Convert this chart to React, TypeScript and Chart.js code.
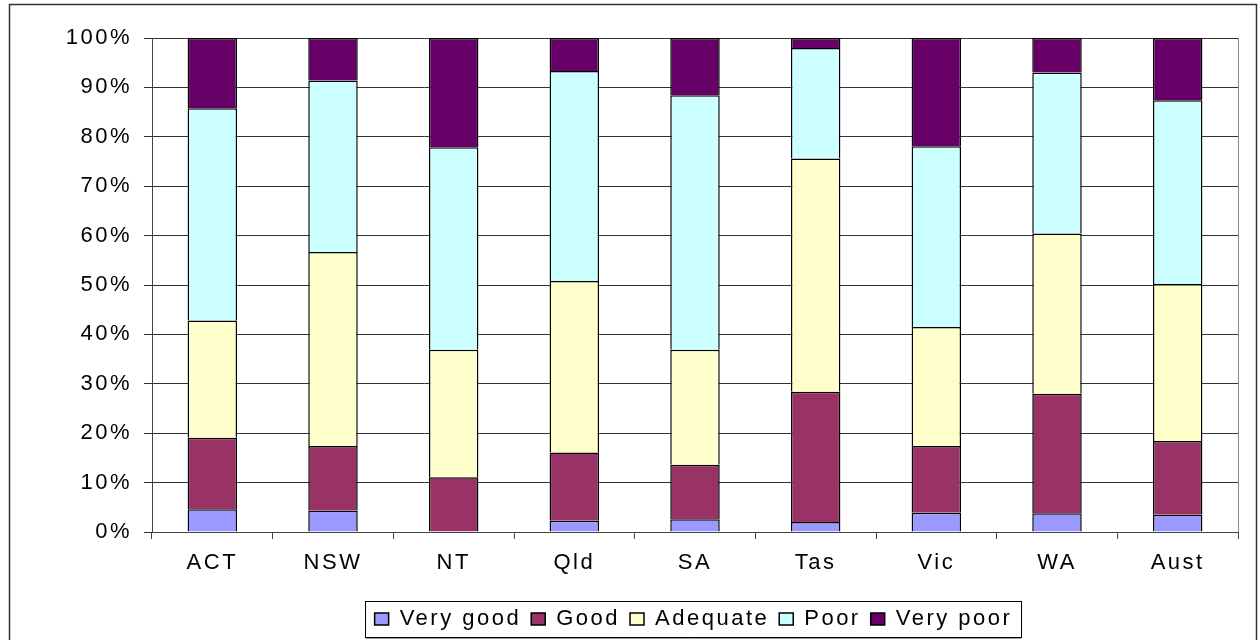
import React, { useEffect, useRef } from "react";
import { Chart, registerables } from "chart.js";

Chart.register(...registerables);

const categories = ["ACT", "NSW", "NT", "Qld", "SA", "Tas", "Vic", "WA", "Aust"];
const seriesNames = ["Very good", "Good", "Adequate", "Poor", "Very poor"];
const veryGood = [4.6, 4.3, 0, 2.3, 2.6, 2.0, 3.9, 3.8, 3.5];
const good = [14.5, 13.1, 11.1, 13.8, 11.0, 26.4, 13.5, 24.2, 14.9];
const adequate = [23.7, 39.3, 25.8, 34.7, 23.3, 47.2, 24.1, 32.4, 31.8];
const poor = [43.0, 34.7, 41.0, 42.5, 51.5, 22.4, 36.6, 32.6, 37.2];
const veryPoor = [14.2, 8.6, 22.1, 6.7, 11.6, 2.0, 21.9, 7.0, 12.6];
const yTicks = [0, 10, 20, 30, 40, 50, 60, 70, 80, 90, 100];
const colors = ["#9999FF", "#993366", "#FFFFCC", "#CCFFFF", "#660066"];

const FONT = "'Liberation Sans', Arial, sans-serif";
const SPACING = "2.5px";

const spacingPlugin = {
  id: "letterSpacing",
  afterInit(chart: any) {
    chart.ctx.letterSpacing = SPACING;
  },
  beforeUpdate(chart: any) {
    chart.ctx.letterSpacing = SPACING;
  },
  beforeDraw(chart: any) {
    chart.ctx.letterSpacing = SPACING;
  },
};

const legendShiftPlugin = {
  id: "legendShift",
  afterLayout(chart: any) {
    const lg = chart.legend;
    if (lg) {
      lg.left += 70;
      lg.right += 70;
    }
  },
};

const framePlugin = {
  id: "frame",
  afterDraw(chart: any) {
    const ctx = chart.ctx;
    const a = chart.chartArea;
    ctx.save();
    ctx.strokeStyle = "#888";
    ctx.lineWidth = 1;
    ctx.beginPath();
    ctx.moveTo(Math.round(a.right) + 0.5, a.top);
    ctx.lineTo(Math.round(a.right) + 0.5, a.bottom);
    ctx.stroke();
    ctx.strokeStyle = "#333";
    ctx.lineWidth = 1.5;
    ctx.strokeRect(9.5, 4.5, 1247, 700);
    const hb = chart.legend && chart.legend.legendHitBoxes;
    if (hb && hb.length) {
      const left = hb[0].left - 10;
      const last = hb[hb.length - 1];
      const right = last.left + last.width + 8;
      const cy = hb[0].top + hb[0].height / 2;
      const top = Math.round(cy - 18) + 0.5;
      ctx.strokeStyle = "#999";
      ctx.lineWidth = 1;
      ctx.beginPath();
      ctx.moveTo(Math.round(left) + 1, top + 37);
      ctx.lineTo(Math.round(right) + 1, top + 37);
      ctx.stroke();
      ctx.strokeStyle = "#000";
      ctx.strokeRect(Math.round(left) + 0.5, top, Math.round(right - left), 36);
    }
    ctx.restore();
  },
};

export default function App() {
  const ref = useRef<HTMLCanvasElement | null>(null);
  useEffect(() => {
    if (!ref.current) return;
    const seriesValues = [veryGood, good, adequate, poor, veryPoor];
    const chart = new Chart(ref.current, {
      type: "bar",
      data: {
        labels: categories,
        datasets: seriesNames.map((name, i) => ({
          label: name,
          data: seriesValues[i],
          backgroundColor: colors[i],
          borderColor: "#000",
          borderWidth: 1.5,
          barPercentage: 1,
          categoryPercentage: 0.41,
        })),
      },
      options: {
        animation: false,
        responsive: false,
        layout: { padding: { left: 9, right: 21, top: 38, bottom: 0 } },
        plugins: {
          tooltip: { enabled: false },
          legend: {
            position: "bottom",
            labels: {
              color: "#000",
              font: { family: FONT, size: 22 },
              boxWidth: 14,
              boxHeight: 12,
              padding: 10,
            },
          },
        },
        scales: {
          x: {
            stacked: true,
            afterFit: (s: any) => {
              s.height = 66;
            },
            grid: {
              display: true,
              drawOnChartArea: false,
              drawTicks: true,
              tickLength: 7,
              color: "#444",
              offset: true,
            },
            border: { display: true, color: "#444", width: 1 },
            ticks: {
              color: "#000",
              font: { family: FONT, size: 22 },
              padding: 11,
              maxRotation: 0,
            },
          },
          y: {
            stacked: true,
            min: 0,
            max: 100,
            afterFit: (s: any) => {
              s.width = 143;
            },
            afterBuildTicks: (s: any) => {
              s.ticks = yTicks.map((v) => ({ value: v }));
            },
            grid: {
              color: "#333",
              tickLength: 8,
              drawTicks: true,
            },
            border: { display: true, color: "#444", width: 1 },
            ticks: {
              color: "#000",
              font: { family: FONT, size: 22 },
              padding: 12,
              callback: (v: any) => v + "%",
            },
          },
        },
      },
      plugins: [spacingPlugin, legendShiftPlugin, framePlugin],
    });
    return () => chart.destroy();
  }, []);
  return (
    <div style={{ position: "absolute", left: 0, top: 0, width: 1259, height: 640, background: "#fff" }}>
      <canvas ref={ref} width={1259} height={640} style={{ display: "block" }} />
    </div>
  );
}
